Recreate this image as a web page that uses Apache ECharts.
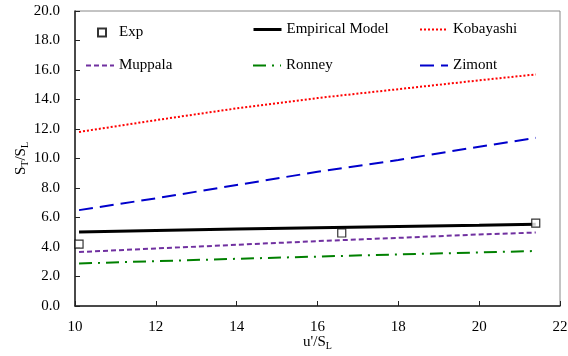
<!DOCTYPE html>
<html>
<head>
<meta charset="utf-8">
<script src="https://cdn.jsdelivr.net/npm/echarts@6/dist/echarts.min.js"></script>
<style>
  html, body { margin: 0; padding: 0; background: #fff; }
  #chart { width: 568px; height: 356px; }
</style>
</head>
<body>
<div id="chart"></div>
<script>
// Turbulent flame speed ratio S_T/S_L versus turbulence intensity u'/S_L
const expX = [10.1, 16.6, 21.4];
const expY = [4.2, 4.95, 5.62];

const modelX = [10.1, 12, 14, 16, 18, 20, 21.4];
const empirical = [5.02, 5.12, 5.22, 5.31, 5.39, 5.47, 5.54];
const kobayashi = [11.8, 12.6, 13.4, 14.1, 14.7, 15.3, 15.7];
const muppala   = [3.66, 3.9, 4.15, 4.4, 4.62, 4.85, 4.98];
const ronney    = [2.88, 3.04, 3.2, 3.35, 3.5, 3.63, 3.73];
const zimont    = [6.5, 7.3, 8.2, 9.1, 9.9, 10.8, 11.4];

const font = 'Liberation Serif';
const pairs = (xs, ys) => xs.map((x, i) => [x, ys[i]]);

function lineSeries(name, ys, color, width, type) {
  return {
    name, type: 'line', data: pairs(modelX, ys),
    symbol: 'none', showSymbol: false, smooth: false,
    lineStyle: { color, width, type },
    itemStyle: { color },
    z: 3
  };
}

// one legend per entry so the entries sit in a 3 x 2 layout
function legendAt(name, left, top, w, h, lineWidth, textPad) {
  const lg = {
    data: [name], left, top, padding: 0,
    itemWidth: w, itemHeight: h,
    textStyle: { fontFamily: font, fontSize: 15, color: '#000', padding: textPad || 0 },
    selectedMode: false
  };
  if (lineWidth) {
    lg.itemStyle = { opacity: 0 };
    lg.lineStyle = { width: lineWidth };
  }
  return lg;
}

const chart = echarts.init(document.getElementById('chart'), null, { renderer: 'canvas' });
chart.setOption({
  animation: false,
  backgroundColor: '#fff',
  grid: {
    left: 75, right: 8, top: 11, bottom: 50,
    outerBoundsMode: 'none', containLabel: false,
    show: true, borderColor: '#888', borderWidth: 1
  },
  legend: [
    legendAt('Exp', 97, 25, 8, 8, 0, [0, 0, 0, 8]),
    legendAt('Empirical Model', 252, 22, 28, 14, 3),
    legendAt('Kobayashi', 419, 22, 28, 14, 2),
    legendAt('Muppala', 85, 58, 28, 14, 2),
    legendAt('Ronney', 252, 58, 28, 14, 2),
    legendAt('Zimont', 419, 58, 28, 14, 2)
  ],
  xAxis: {
    type: 'value', min: 10, max: 22, interval: 2,
    name: "u'/S{s|L}",
    nameLocation: 'middle', nameGap: 27, nameMoveOverlap: false,
    nameTextStyle: {
      fontFamily: font, fontSize: 15, color: '#000',
      rich: { s: { fontFamily: font, fontSize: 10, color: '#000', padding: [8, 0, 0, 0] } }
    },
    axisLine: { lineStyle: { color: '#222', width: 1.5 } },
    axisTick: { inside: true, length: 5, lineStyle: { color: '#222' } },
    axisLabel: { fontFamily: font, fontSize: 15, color: '#000', margin: 14 },
    splitLine: { show: false }
  },
  yAxis: {
    type: 'value', min: 0, max: 20, interval: 2,
    name: '{a|S}{s|T}{a|/S}{s|L}',
    nameLocation: 'middle', nameGap: 45, nameRotate: 90, nameMoveOverlap: false,
    nameTextStyle: {
      rich: {
        a: { fontFamily: font, fontSize: 15, color: '#000' },
        s: { fontFamily: font, fontSize: 10, color: '#000', padding: [8, 0, 0, 0] }
      }
    },
    axisLine: { show: true, lineStyle: { color: '#222', width: 1.5 } },
    axisTick: { show: true, inside: true, length: 5, lineStyle: { color: '#222' } },
    axisLabel: { fontFamily: font, fontSize: 15, color: '#000', margin: 15,
      formatter: v => v.toFixed(1) },
    splitLine: { show: false }
  },
  series: [
    {
      name: 'Exp', type: 'scatter', data: pairs(expX, expY),
      symbol: 'rect', symbolSize: 8,
      itemStyle: { color: '#fff', borderColor: '#000', borderWidth: 1.2 },
      z: 5
    },
    lineSeries('Empirical Model', empirical, '#000', 3, 'solid'),
    lineSeries('Kobayashi', kobayashi, '#ff0000', 2, [2, 2]),
    lineSeries('Muppala', muppala, '#7030a0', 2, [5, 3]),
    lineSeries('Ronney', ronney, '#008000', 2, [13, 6, 2, 6]),
    lineSeries('Zimont', zimont, '#0000cc', 2, [14, 7])
  ]
});
</script>
</body>
</html>
